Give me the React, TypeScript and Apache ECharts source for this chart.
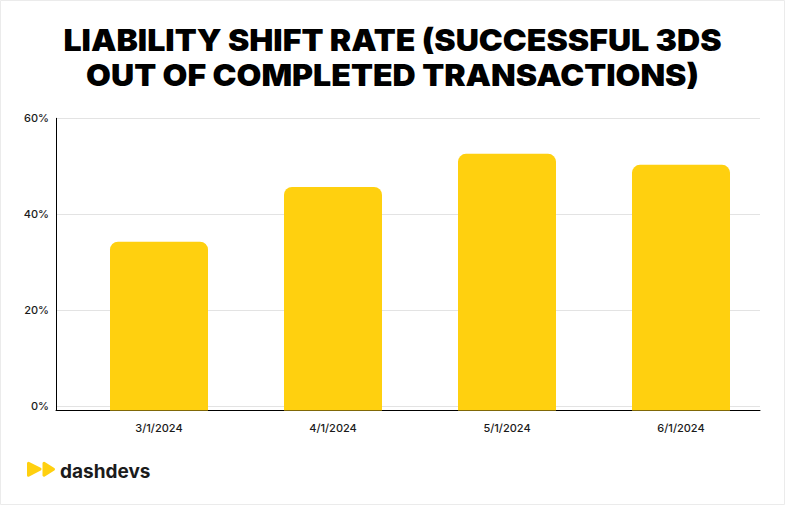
import React, { useEffect, useRef } from "react";
import * as echarts from "echarts";

const categories = ["3/1/2024", "4/1/2024", "5/1/2024", "6/1/2024"];
const values = [34.3, 45.7, 52.6, 50.3];
const yMin = 0;
const yMax = 60;
const yInterval = 20;
const titleLines = ["LIABILITY SHIFT RATE (SUCCESSFUL 3DS", "OUT OF COMPLETED TRANSACTIONS)"];
const brandName = "dashdevs";

const W = 785;
const H = 505;
const YELLOW = "#FFD00F";

export default function App() {
  const ref = useRef<HTMLDivElement>(null);
  useEffect(() => {
    document.body.style.margin = "0";
    if (!ref.current) return;
    const chart = echarts.init(ref.current, null, { renderer: "svg" });
    const plotTop = 118.3;
    const zeroY = 406.3;
    const axisY = 410.5;
    const plotH = zeroY - plotTop;
    const extra = axisY - zeroY;
    const barAxisMin = -(yMax - yMin) * (extra / plotH);
    const font = "Inter";
    const barWidth = 98;
    const titleSize = 30;
    const titleStretch = 1.07;
    chart.setOption({
      animation: false,
      backgroundColor: "#ffffff",
      grid: [
        { left: 56, right: 25, top: plotTop, bottom: H - zeroY },
        { left: 56, right: 25, top: plotTop, bottom: H - axisY },
        { left: 72, right: 17, top: plotTop, bottom: H - axisY },
      ],
      xAxis: [
        { gridIndex: 0, type: "category", data: categories, show: false },
        {
          gridIndex: 1,
          type: "category",
          data: categories,
          axisLine: { show: true, lineStyle: { color: "#000000", width: 1 } },
          axisTick: { show: false },
          axisLabel: { show: false },
          splitLine: { show: false },
        },
        {
          gridIndex: 2,
          type: "category",
          data: categories,
          axisLine: { show: false },
          axisTick: { show: false },
          axisLabel: {
            margin: 12,
            fontFamily: font,
            fontSize: 11,
            fontWeight: 500,
            color: "#1a1a1a",
          },
        },
      ],
      yAxis: [
        {
          gridIndex: 0,
          type: "value",
          min: yMin,
          max: yMax,
          interval: yInterval,
          axisLine: { show: false },
          axisTick: { show: false },
          axisLabel: {
            formatter: "{value}%",
            margin: 7,
            fontFamily: font,
            fontSize: 11,
            fontWeight: 500,
            color: "#1a1a1a",
          },
          splitLine: { show: true, lineStyle: { color: "#e3e3e3", width: 1 } },
        },
        {
          gridIndex: 1,
          type: "value",
          min: 0,
          max: 1,
          axisLine: { show: true, lineStyle: { color: "#000000", width: 1 } },
          axisTick: { show: false },
          axisLabel: { show: false },
          splitLine: { show: false },
        },
        {
          gridIndex: 2,
          type: "value",
          min: barAxisMin,
          max: yMax,
          show: false,
          splitLine: { show: false },
        },
      ],
      series: [
        {
          type: "custom",
          xAxisIndex: 2,
          yAxisIndex: 2,
          data: values.map((v, i) => [i, v]),
          encode: { x: 0, y: 1 },
          z: 3,
          renderItem: (params: any, api: any) => {
            const i = api.value(0);
            const v = api.value(1);
            const top = api.coord([i, v]);
            const base = api.coord([i, barAxisMin]);
            return {
              type: "rect",
              shape: {
                x: top[0] - barWidth / 2,
                y: top[1],
                width: barWidth,
                height: base[1] - top[1],
                r: [8, 8, 0, 0],
              },
              style: { fill: YELLOW },
            };
          },
        },
      ],
      graphic: [
        {
          type: "rect",
          shape: { x: 0.5, y: 0.5, width: W - 1, height: H - 1 },
          style: { fill: "none", stroke: "#ebebeb", lineWidth: 1 },
          silent: true,
        },
        {
          type: "text",
          x: W / 2,
          y: 49 - 0.3 * titleSize,
          scaleX: titleStretch,
          style: {
            text: titleLines[0],
            fontFamily: font,
            fontWeight: 900,
            fontSize: titleSize,
            fill: "#000000",
            align: "center",
            verticalAlign: "middle",
          },
        },
        {
          type: "text",
          x: W / 2,
          y: 84 - 0.3 * titleSize,
          scaleX: titleStretch,
          style: {
            text: titleLines[1],
            fontFamily: font,
            fontWeight: 900,
            fontSize: titleSize,
            fill: "#000000",
            align: "center",
            verticalAlign: "middle",
          },
        },
        {
          type: "polygon",
          shape: { points: [[28.5, 463.3], [40, 469.2], [28.5, 475.2]] },
          style: { fill: YELLOW, stroke: YELLOW, lineWidth: 3, lineJoin: "round" },
        },
        {
          type: "polygon",
          shape: { points: [[44, 463.3], [53.5, 469.2], [44, 475.2]] },
          style: { fill: YELLOW, stroke: YELLOW, lineWidth: 3, lineJoin: "round" },
        },
        {
          type: "text",
          x: 60,
          y: 471,
          style: {
            text: brandName,
            fontFamily: font,
            fontWeight: 700,
            fontSize: 19,
            fill: "#1b1b1b",
            verticalAlign: "middle",
          },
        },
      ],
    });
    return () => chart.dispose();
  }, []);
  return <div ref={ref} style={{ width: W, height: H }} />;
}
